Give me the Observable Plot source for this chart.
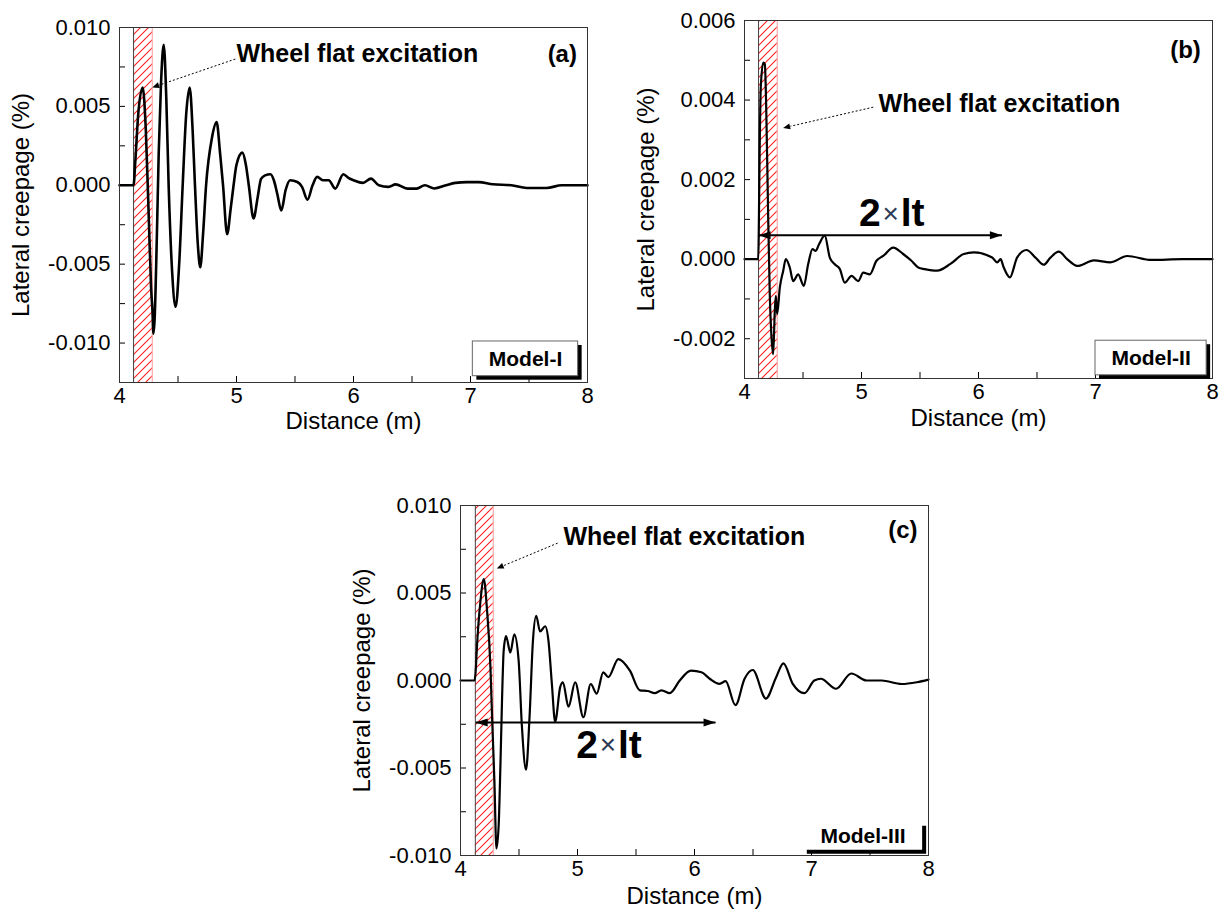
<!DOCTYPE html>
<html><head><meta charset="utf-8">
<script src="https://cdn.jsdelivr.net/npm/d3@7"></script>
<script src="https://cdn.jsdelivr.net/npm/@observablehq/plot@0.6"></script>
<style>
body{margin:0;background:#fff;}
#wrap{position:relative;width:1222px;height:921px;background:#fff;overflow:hidden;}
</style></head><body>
<div id="wrap"></div>
<script>
// ---------- data (lateral creepage in units of 0.001 %) ----------
const distA = [4.00,4.12,4.135,4.16,4.198,4.225,4.25,4.27,4.282,4.29,4.30,4.32,4.335,4.355,4.378,4.40,4.42,4.45,4.48,4.51,4.54,4.57,4.60,4.625,4.645,4.67,4.69,4.715,4.74,4.79,4.83,4.86,4.885,4.92,4.95,4.975,5.00,5.05,5.08,5.105,5.146,5.18,5.21,5.244,5.29,5.32,5.35,5.383,5.42,5.458,5.52,5.56,5.607,5.65,5.689,5.738,5.788,5.844,5.913,5.96,6.00,6.08,6.15,6.216,6.30,6.36,6.46,6.54,6.61,6.69,6.79,6.87,6.97,7.07,7.19,7.35,7.48,7.65,7.78,8.00];
const creepA = [0,0,1.5,4.5,6.2,3.5,-2,-6.5,-8.0,-9.4,-8.5,-3,2,6.5,8.9,5.5,0,-5.5,-7.7,-5,0,4.5,6.2,3.5,0,-3.8,-5.2,-3,0,3,4.0,2,0,-3.1,-1.5,0,1.3,2.07,1.3,0,-2.1,-0.8,0.4,0.63,0.7,0.3,-0.6,-1.6,-0.3,0.32,0.21,-0.1,-0.91,0,0.53,0.32,0.32,-0.21,0.7,0.45,0.32,0.15,0.42,0,-0.1,0.06,-0.21,-0.21,0,-0.2,0,0.15,0.2,0.2,0.06,0,-0.17,-0.17,0,0];

const distB = [4.00,4.117,4.131,4.139,4.16,4.174,4.185,4.203,4.216,4.231,4.245,4.259,4.268,4.279,4.302,4.331,4.353,4.387,4.416,4.459,4.507,4.544,4.581,4.609,4.638,4.686,4.729,4.772,4.815,4.857,4.915,4.972,5.015,5.071,5.128,5.185,5.271,5.356,5.427,5.485,5.541,5.647,5.76,5.874,5.96,6.117,6.16,6.188,6.216,6.268,6.33,6.41,6.487,6.558,6.615,6.686,6.758,6.844,6.986,7.128,7.271,7.476,7.74,8.00];
const creepB = [0,0,3.06,4.31,4.94,4.9,3.9,0.96,-0.88,-1.97,-2.39,-1.3,-0.92,-1.38,-0.71,-0.29,0,-0.21,-0.55,-0.38,-0.67,-0.13,0.25,0.21,0.38,0.59,0.04,-0.13,-0.25,-0.59,-0.42,-0.55,-0.34,-0.38,-0.04,0.08,0.29,0.13,-0.04,-0.21,-0.25,-0.29,-0.12,0.13,0.17,0.04,-0.08,0,-0.21,-0.46,0.04,0.23,0.04,-0.14,0.04,0.19,0,-0.17,-0.03,-0.08,0.08,-0.02,0,0];

const distC = [4.00,4.12,4.128,4.142,4.17,4.199,4.227,4.256,4.27,4.29,4.307,4.326,4.341,4.355,4.369,4.389,4.426,4.46,4.497,4.525,4.56,4.59,4.619,4.647,4.68,4.724,4.752,4.781,4.809,4.852,4.875,4.923,4.98,5.05,5.113,5.164,5.22,5.263,5.349,5.448,5.533,5.60,5.66,5.718,5.789,5.874,5.97,6.06,6.13,6.215,6.266,6.35,6.428,6.498,6.61,6.698,6.76,6.84,6.94,7.024,7.08,7.21,7.34,7.47,7.60,7.77,7.90,8.00];
const creepC = [0,0,0.38,2.1,4.5,5.8,4.0,0.75,-2.1,-5.8,-9.6,-8.3,-4.9,-1.1,1.7,2.54,1.6,2.64,1.13,-2.64,-5.1,-2.1,2.26,3.7,2.8,3.1,2.26,-0.2,-2.36,-0.38,-0.1,-1.5,-0.1,-2.1,-0.2,-0.75,0.47,0.19,1.22,0.56,-0.56,-0.6,-0.72,-0.56,-0.72,0,0.56,0.47,0.1,-0.19,-0.04,-1.41,0.1,0.6,-1.03,0.19,0.98,-0.19,-0.72,0,0.1,-0.47,0.4,0,0,-0.2,-0.1,0.05];

// ---------- axes ----------
const xLabelTicks = [4,5,6,7,8];
const xTickMarks = [4.5,5,5.5,6,6.5,7,7.5];
const yLabelTicksA = [-0.010,-0.005,0,0.005,0.010];
const yTickMarksA = [-0.01,-0.0075,-0.005,-0.0025,0,0.0025,0.005,0.0075];
const yLabelTicksB = [-0.002,0,0.002,0.004,0.006];
const yTickMarksB = [-0.002,-0.001,0,0.001,0.002,0.003,0.004,0.005];
const yLabelTicksC = [-0.010,-0.005,0,0.005,0.010];
const yTickMarksC = [-0.0075,-0.005,-0.0025,0,0.0025,0.005,0.0075];

// excitation zone (hatched)
const hatchA = {x1:4.12, x2:4.28};
const hatchB = {x1:4.12, x2:4.28};
const hatchC = {x1:4.127, x2:4.28};

// annotations
const flatText = "Wheel flat excitation";
const noteA = {x:5.0, y:0.0083, ax1:4.99, ay1:0.0080, ax2:4.28, ay2:0.0062, tag:"(a)", tx:7.91, ty:0.0083};
const noteB = {x:5.146, y:0.0039, ax1:5.10, ay1:0.00382, ax2:4.33, ay2:0.0033, tag:"(b)", tx:7.90, ty:0.00526};
const noteC = {x:4.88, y:0.0082, ax1:4.83, ay1:0.00785, ax2:4.31, ay2:0.0064, tag:"(c)", tx:7.906, ty:0.0086};
const spanB = {x1:4.12, x2:6.20, y:0.0006, lx:5.25, ly:0.00114};
const spanC = {x1:4.13, x2:6.18, y:-0.0024, lx:5.26, ly:-0.0037};
const modelA = {name:"Model-I", x1:7.02, x2:7.92, y1:-0.0121, y2:-0.0099};
const modelB = {name:"Model-II", x1:7.0, x2:7.95, y1:-0.00292, y2:-0.00205};
const modelC = {name:"Model-III", x1:6.93, x2:7.95, y1:-0.0097, y2:-0.0081};

const FONT = '"Liberation Sans", Arial, Helvetica, sans-serif';

const headShape = {draw(ctx, l){ ctx.moveTo(0,0); ctx.lineTo(-4, 12); ctx.lineTo(4, 12); ctx.closePath(); }};
const smallHead = {draw(ctx, l){ ctx.moveTo(0,0); ctx.lineTo(-3, 7); ctx.lineTo(3, 7); ctx.closePath(); }};

function panel(c, id){
  const pw = c.width - c.ml - c.mr, ph = c.height - c.mt - c.mb;
  const kx = pw / 4, ky = ph / (c.yDomain[1] - c.yDomain[0]);
  const data = c.dist.map((d,i)=>({x:d, y:c.creep[i]*1e-3}));
  const n = c.note;
  const ang = Math.atan2((n.ax2 - n.ax1)*kx, (n.ay2 - n.ay1)*ky) * 180/Math.PI;
  const pid = "hatch-" + id;
  const marks = [
    Plot.rect([c.hatch], {x1:"x1", x2:"x2", y1:c.yDomain[0], y2:c.yDomain[1], fill:`url(#${pid})`}),
    Plot.ruleX([c.hatch.x2], {x:d=>d, stroke:"#ff8080", strokeWidth:0.8}),
    Plot.ruleX([c.hatch.x1], {x:d=>d, stroke:"#444", strokeWidth:1}),
    Plot.line(data, {x:"x", y:"y", stroke:"#000", strokeWidth:c.lw, curve:"monotone-x"}),
    Plot.tickX(xTickMarks, {x:d=>d, insetTop:ph-6, stroke:"#000", strokeWidth:1}),
    Plot.tickY(c.yMarks, {y:d=>d, insetRight:pw-6, stroke:"#000", strokeWidth:1}),
    Plot.axisX(xLabelTicks, {tickSize:0, tickPadding:5, tickFormat:d=>String(d), label:null, fontSize:22}),
    Plot.axisY(c.yLabels, {tickSize:0, tickPadding:9, tickFormat:d=>d.toFixed(3), label:null, fontSize:22}),
    Plot.frame({stroke:"#333", strokeWidth:1}),
    Plot.text(["Distance (m)"], {text:d=>d, frameAnchor:"bottom", textAnchor:"middle", dy:c.xtDy, fontSize:24}),
    Plot.text(["Lateral creepage (%)"], {text:d=>d, frameAnchor:"left", textAnchor:"middle", rotate:-90, dx:-98, fontSize:24}),
    // annotation
    Plot.text([n], {x:"x", y:"y", text:()=>flatText, textAnchor:"start", fontWeight:"bold", fontSize:25}),
    Plot.link([n], {x1:"ax1", y1:"ay1", x2:d=>d.ax2+(d.ax1-d.ax2)*0.08, y2:d=>d.ay2+(d.ay1-d.ay2)*0.08, stroke:"#000", strokeWidth:1, strokeDasharray:"2,2"}),
    Plot.vector([n], {x:"ax2", y:"ay2", rotate:ang, length:7, anchor:"start", shape:smallHead, fill:"#000", stroke:"none"}),
    Plot.text([n], {x:"tx", y:"ty", text:"tag", textAnchor:"end", fontWeight:"bold", fontSize:24}),
    // model box
    Plot.rect([c.model], {x1:"x1", x2:"x2", y1:"y1", y2:"y2", fill:"#000", dx:4, dy:4}),
    Plot.rect([c.model], {x1:"x1", x2:"x2", y1:"y1", y2:"y2", fill:"#fff", stroke:c.boxStroke, strokeWidth:1}),
    Plot.text([c.model], {x:d=>(d.x1+d.x2)/2, y:d=>(d.y1+d.y2)/2, text:"name", fontWeight:"bold", fontSize:21})
  ];
  if (c.span){
    const s = c.span;
    marks.push(
      Plot.link([s], {x1:"x1", x2:"x2", y1:"y", y2:"y", stroke:"#000", strokeWidth:2}),
      Plot.vector([s], {x:"x2", y:"y", rotate:90, length:12, anchor:"start", shape:headShape, fill:"#000", stroke:"none"}),
      Plot.vector([s], {x:"x1", y:"y", rotate:-90, length:12, anchor:"start", shape:headShape, fill:"#000", stroke:"none"}),
      Plot.text([s], {x:"lx", y:"ly", text:()=>"2", textAnchor:"end", dx:-10, fontWeight:"bold", fontSize:39}),
      Plot.text([s], {x:"lx", y:"ly", text:()=>"\u00d7", fontWeight:"normal", fontSize:28, fill:"#2b3a55"}),
      Plot.text([s], {x:"lx", y:"ly", text:()=>"lt", textAnchor:"start", dx:10, fontWeight:"bold", fontSize:39})
    );
  }
  const svg = Plot.plot({
    width:c.width, height:c.height,
    marginLeft:c.ml, marginRight:c.mr, marginTop:c.mt, marginBottom:c.mb,
    style:{fontFamily:FONT, fontSize:"22px", color:"#000", background:"transparent", overflow:"visible"},
    x:{domain:[4,8], label:null},
    y:{domain:c.yDomain, label:null},
    marks
  });
  // hatch pattern definition inside this svg
  const NS = "http://www.w3.org/2000/svg";
  const defs = document.createElementNS(NS, "defs");
  const pat = document.createElementNS(NS, "pattern");
  pat.setAttribute("id", pid);
  pat.setAttribute("patternUnits", "userSpaceOnUse");
  pat.setAttribute("width", "8"); pat.setAttribute("height", "8");
  const p = document.createElementNS(NS, "path");
  p.setAttribute("d", "M-2,2 L2,-2 M0,8 L8,0 M6,10 L10,6");
  p.setAttribute("style", "stroke:#ff2020;stroke-width:1.1;fill:none");
  pat.appendChild(p); defs.appendChild(pat);
  svg.insertBefore(defs, svg.firstChild);
  svg.style.position = "absolute";
  svg.style.left = c.left + "px";
  svg.style.top = c.top + "px";
  return svg;
}

const wrap = document.getElementById("wrap");
wrap.appendChild(panel({left:0, top:0, width:600, height:450, ml:119, mr:13, mt:27, mb:68, xtDy:46, lw:2.6,
  yDomain:[-0.0125,0.010], dist:distA, creep:creepA, yLabels:yLabelTicksA, yMarks:yTickMarksA,
  hatch:hatchA, note:noteA, model:modelA, boxStroke:"#666"}, "a"));
wrap.appendChild(panel({left:620, top:0, width:602, height:450, ml:124, mr:10, mt:20, mb:72, xtDy:47, lw:2.2,
  yDomain:[-0.003,0.006], dist:distB, creep:creepB, yLabels:yLabelTicksB, yMarks:yTickMarksB,
  hatch:hatchB, note:noteB, model:modelB, boxStroke:"#666", span:spanB}, "b"));
wrap.appendChild(panel({left:330, top:470, width:620, height:451, ml:130, mr:22, mt:35, mb:66, xtDy:48, lw:2.2,
  yDomain:[-0.010,0.010], dist:distC, creep:creepC, yLabels:yLabelTicksC, yMarks:yTickMarksC,
  hatch:hatchC, note:noteC, model:modelC, boxStroke:"none", span:spanC}, "c"));
</script>
</body></html>
